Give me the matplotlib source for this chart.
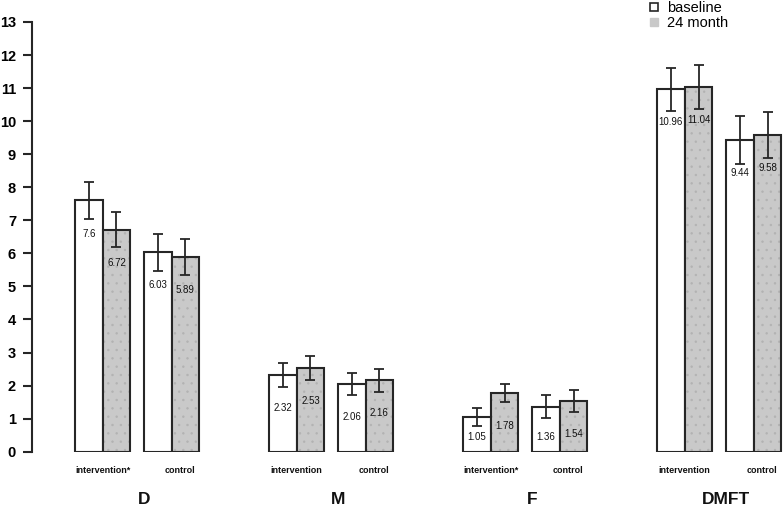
import matplotlib
matplotlib.use("Agg")
import matplotlib.pyplot as plt
from matplotlib.lines import Line2D

plt.rcParams["font.family"] = ["Liberation Sans", "DejaVu Sans"]

groups = ["D", "M", "F", "DMFT"]
arm_labels = ["intervention*", "control", "intervention", "control",
              "intervention*", "control", "intervention", "control"]
baseline = [7.6, 6.03, 2.32, 2.06, 1.05, 1.36, 10.96, 9.44]
month24 = [6.72, 5.89, 2.53, 2.16, 1.78, 1.54, 11.04, 9.58]
baseline_err = [0.57, 0.55, 0.36, 0.33, 0.26, 0.35, 0.66, 0.73]
month24_err = [0.53, 0.55, 0.37, 0.34, 0.28, 0.34, 0.66, 0.70]

EDGE = "#262626"
GREY = "#c9c9c9"

W, H = 783, 508
fig = plt.figure(figsize=(W / 100, H / 100), dpi=100)
ax = fig.add_axes([32 / W, (H - 451.7) / H, (W - 32) / W, 429.7 / H])

# bar layout in bar-width units
first = 1.56
group_step = 7.03
pair_step = 2.5
lefts = []
for g in range(len(groups)):
    for k in range(2):
        lefts.append(first + g * group_step + k * pair_step)
x_base = [l + 0.5 for l in lefts]
x_m24 = [l + 1.5 for l in lefts]

ax.bar(x_base, baseline, width=1, color="white", edgecolor=EDGE, linewidth=1.5, zorder=2)
# stippled fill for 24 month, then outline on top
plt.rcParams["hatch.linewidth"] = 0.5
ax.bar(x_m24, month24, width=1, color=GREY, edgecolor="#b2b2b2", hatch="..",
       linewidth=0, zorder=2)
ax.bar(x_m24, month24, width=1, fill=False, edgecolor=EDGE, linewidth=1.5, zorder=3)

ax.errorbar(x_base, baseline, yerr=baseline_err, fmt="none", ecolor=EDGE,
            elinewidth=1.3, capsize=3.6, capthick=1.3, zorder=4)
ax.errorbar(x_m24, month24, yerr=month24_err, fmt="none", ecolor=EDGE,
            elinewidth=1.3, capsize=3.6, capthick=1.3, zorder=4)

for xs, vals in [(x_base, baseline), (x_m24, month24)]:
    for x, v in zip(xs, vals):
        ax.text(x, max(v - 1.0, 0.45), f"{v:g}", ha="center", va="center",
                fontsize=7, color="#111111", zorder=5)

for i, lab in enumerate(arm_labels):
    shift = 0.3 if lab == "control" else 0.0
    ax.text(lefts[i] + 1 + shift, -0.58, lab, ha="center", va="center",
            fontsize=6.5, fontweight="bold", color="#111111", clip_on=False)

for g, name in enumerate(groups):
    cx = first + g * group_step + (pair_step + 2) / 2 + 0.25
    ax.text(cx, -1.46, name, ha="center", va="center", fontsize=12.5,
            fontweight="bold", color="#111111", clip_on=False)

ax.set_xlim(0, (W - 32) / 27.6)
ax.set_ylim(0, 13)
ax.set_yticks(range(14))
ax.set_xticks([])
for side in ["top", "right", "bottom"]:
    ax.spines[side].set_visible(False)
ax.spines["left"].set_linewidth(1.5)
ax.spines["left"].set_color(EDGE)
ax.tick_params(axis="y", length=6.5, width=1.5, color=EDGE, pad=5,
               labelsize=10.5)
for t in ax.get_yticklabels():
    t.set_fontweight("bold")
ax.patch.set_visible(False)

handles = [
    Line2D([], [], marker="s", ls="", mfc="white", mec=EDGE, ms=5.5, mew=1.2),
    Line2D([], [], marker="s", ls="", mfc=GREY, mec=GREY, ms=6),
]
fig.legend(handles, ["baseline", "24 month"], loc="upper left",
           bbox_to_anchor=(648 / W, 0.998), frameon=False, fontsize=10.5,
           handlelength=0.8, handletextpad=0.5, labelspacing=0.1,
           borderpad=0, borderaxespad=0)

fig.savefig("out.png", dpi=100)
